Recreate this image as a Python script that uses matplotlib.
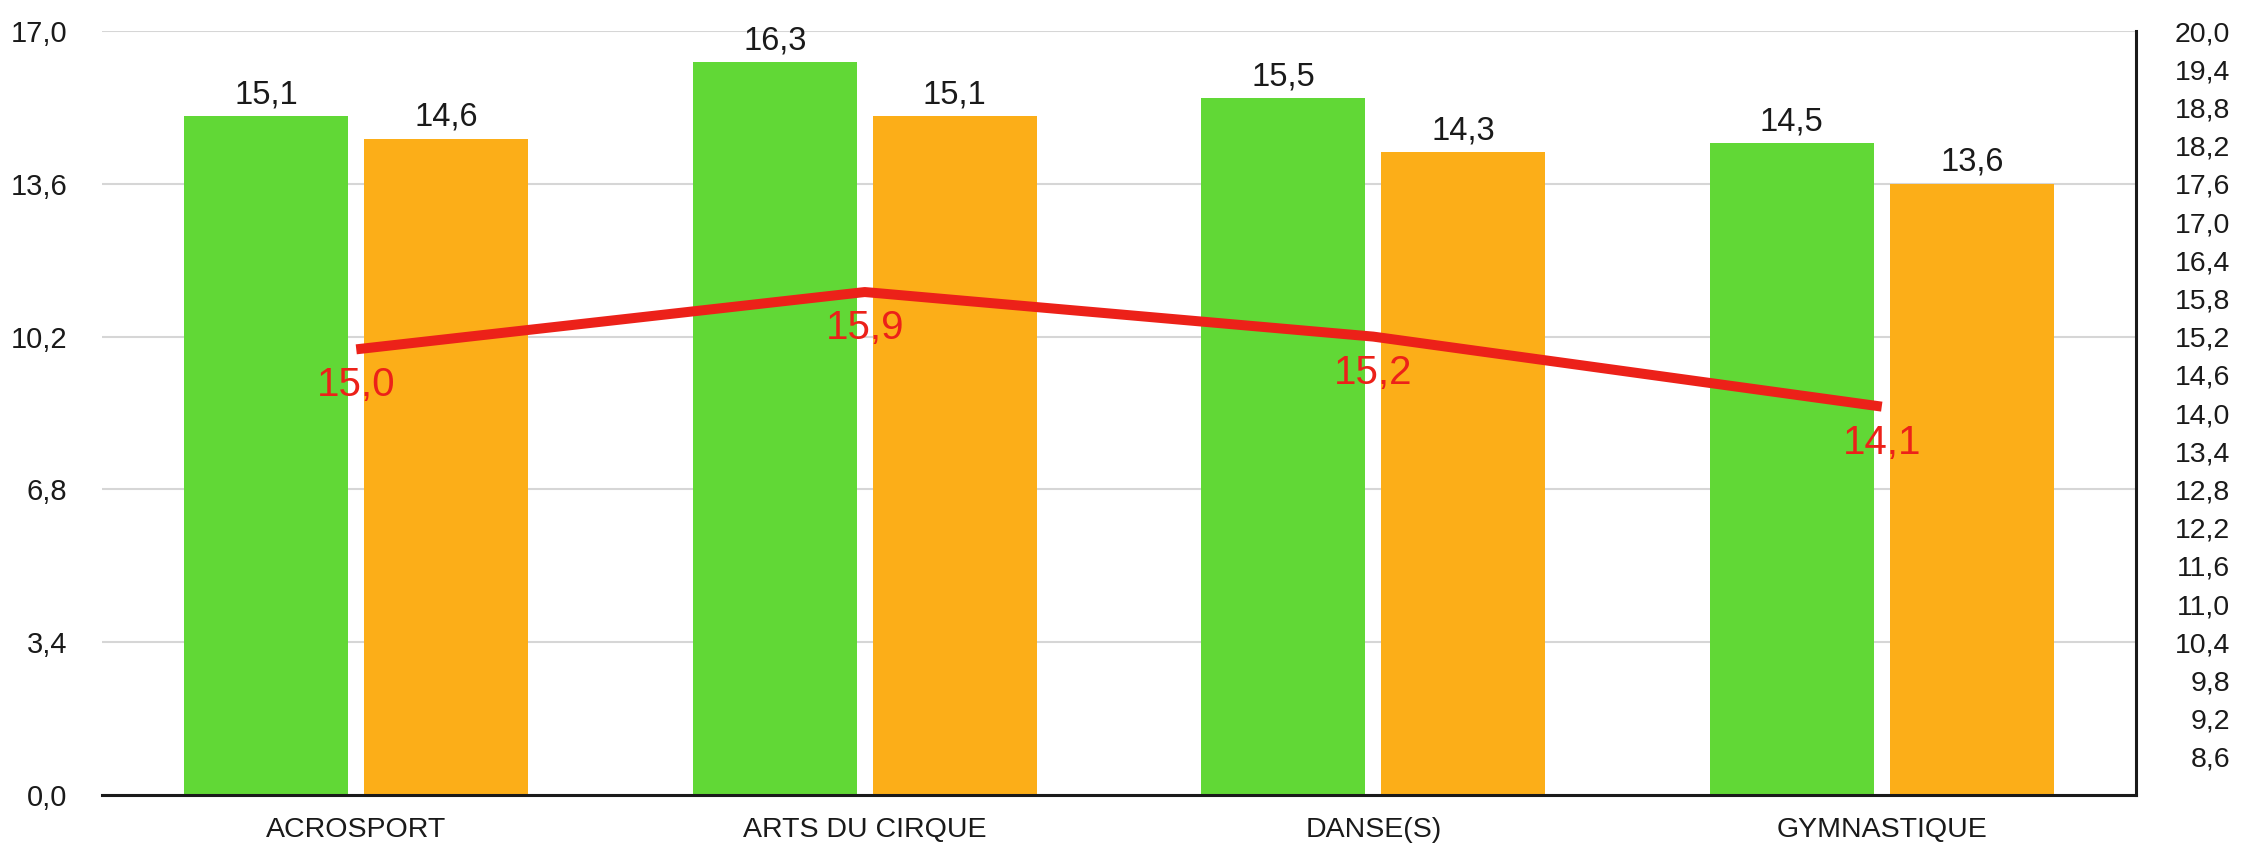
import matplotlib
matplotlib.use('Agg')
import matplotlib.pyplot as plt
import numpy as np
from matplotlib.ticker import FuncFormatter

plt.rcParams['font.family'] = ['Liberation Sans', 'DejaVu Sans']

# %% data
categories = ['ACROSPORT', 'ARTS DU CIRQUE', 'DANSE(S)', 'GYMNASTIQUE']
green_vals = [15.1, 16.3, 15.5, 14.5]
orange_vals = [14.6, 15.1, 14.3, 13.6]
red_vals = [15.0, 15.9, 15.2, 14.1]

left_ticks = [0.0, 3.4, 6.8, 10.2, 13.6, 17.0]
right_ticks = [8.6, 9.2, 9.8, 10.4, 11.0, 11.6, 12.2, 12.8, 13.4, 14.0,
               14.6, 15.2, 15.8, 16.4, 17.0, 17.6, 18.2, 18.8, 19.4, 20.0]

GREEN = '#61D836'
ORANGE = '#FCAE18'
RED = '#EC2119'
DPI = 100


def fr(v, _pos=None):
    return f'{v:.1f}'.replace('.', ',')


# %% figure
fig = plt.figure(figsize=(22.42, 8.5), dpi=DPI)
ax = fig.add_axes([102 / 2242, 55 / 850, (2136 - 102) / 2242, (795 - 31) / 850])
x = np.arange(len(categories))
bw = 0.323
off = 0.177

bars_g = ax.bar(x - off, green_vals, bw, color=GREEN, zorder=2)
bars_o = ax.bar(x + off, orange_vals, bw, color=ORANGE, zorder=2)

for bars, vals in [(bars_g, green_vals), (bars_o, orange_vals)]:
    for b, v in zip(bars, vals):
        ax.annotate(fr(v), (b.get_x() + b.get_width() / 2, v), xytext=(0, 13),
                    textcoords='offset pixels', ha='center', va='baseline',
                    fontsize=23.5, color='#1a1a1a')

ax.set_xlim(-0.5, len(categories) - 0.5)
ax.set_ylim(0, 17)
ax.set_yticks(left_ticks)
ax.yaxis.set_major_formatter(FuncFormatter(fr))
ax.set_xticks(x)
ax.set_xticklabels(categories, fontsize=20.5, color='#1a1a1a')
ax.tick_params(axis='x', length=0, pad=16)
ax.tick_params(axis='y', length=0, pad=25, labelsize=21, labelcolor='#1a1a1a')
ax.grid(axis='y', color='#d6d6d6', linewidth=1.5, zorder=0)
ax.set_axisbelow(True)
for s in ['top', 'left', 'right']:
    ax.spines[s].set_visible(False)
ax.spines['bottom'].set_linewidth(2.2)
ax.spines['bottom'].set_color('#1a1a1a')
ax.spines['bottom'].set_zorder(5)

# %% secondary axis with line
ax2 = ax.twinx()
ax2.plot(x, red_vals, color=RED, linewidth=7.2, solid_capstyle='butt', zorder=3)
for xi, v in zip(x, red_vals):
    ax2.annotate(fr(v), (xi, v), xytext=(0, -47), textcoords='offset pixels',
                 ha='center', va='baseline', fontsize=29, color=RED)
ax2.set_ylim(8.0, 20.0)
ax2.set_yticks(right_ticks)
ax2.yaxis.set_major_formatter(FuncFormatter(fr))
ax2.tick_params(axis='y', length=0, pad=94 * 72 / DPI, labelsize=20.5, labelcolor='#1a1a1a')
for lbl in ax2.get_yticklabels():
    lbl.set_horizontalalignment('right')
for s in ['top', 'left', 'bottom']:
    ax2.spines[s].set_visible(False)
ax2.spines['right'].set_linewidth(2.2)
ax2.spines['right'].set_color('#1a1a1a')

fig.savefig('out.png', dpi=DPI)
